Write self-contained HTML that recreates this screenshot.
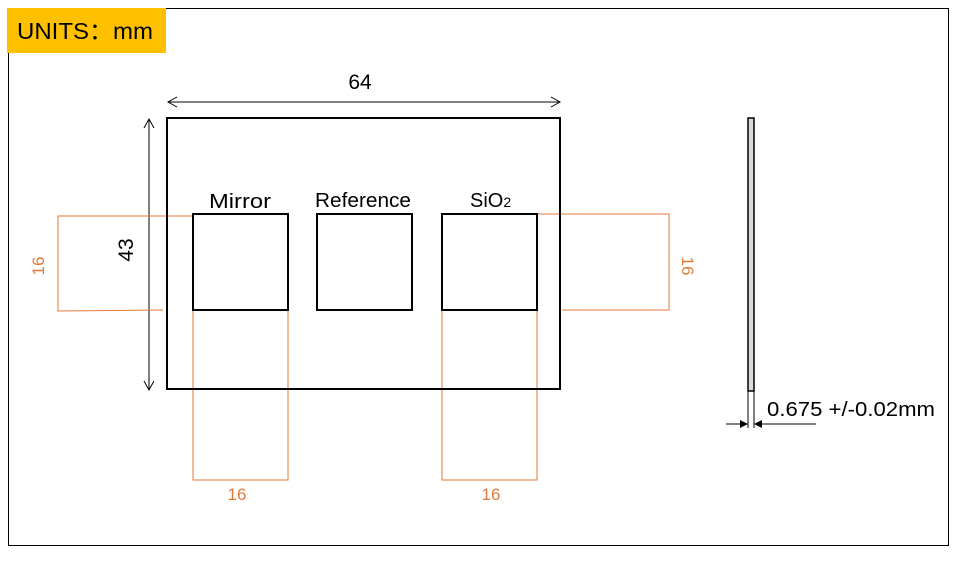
<!DOCTYPE html>
<html><head><style>body{margin:0;background:#fff}svg{display:block}text{font-family:"Liberation Sans",sans-serif}</style></head><body>
<svg width="967" height="561" viewBox="0 0 967 561">
<rect x="8.5" y="8.5" width="940" height="537" fill="#fff" stroke="#000" stroke-width="1"/>
<rect x="7" y="8" width="159" height="45" fill="#FFC000"/>
<text x="17" y="39" font-size="23" fill="#000" textLength="136" lengthAdjust="spacingAndGlyphs">UNITS：mm</text>
<g stroke="#000" stroke-width="1" fill="none">
<line x1="168" y1="102" x2="560" y2="102"/>
<polyline points="177,97 168,102 177,107"/><polyline points="551,97 560,102 551,107"/>
<line x1="149" y1="119" x2="149" y2="390"/>
<polyline points="144,128 149,119 154,128"/><polyline points="144,381 149,390 154,381"/>
</g>
<text x="360" y="89" font-size="21" text-anchor="middle">64</text>
<text transform="translate(133,250) rotate(-90)" font-size="21" text-anchor="middle">43</text>
<g stroke="#E07A3A" stroke-width="1" fill="none">
<polyline points="193,216 58,216 58,311 163,310"/>
<polyline points="537,214 669,214 669,310 562,310"/>
<polyline points="193,310 193,480 288,480 288,310"/>
<polyline points="442,310 442,480 537,480 537,310"/>
</g>
<g fill="#E07A3A" font-size="17">
<text transform="translate(44,266) rotate(-90)" text-anchor="middle">16</text>
<text transform="translate(682,266) rotate(90)" text-anchor="middle">16</text>
<text x="237" y="500" text-anchor="middle">16</text>
<text x="491" y="500" text-anchor="middle">16</text>
</g>
<rect x="167" y="118" width="393" height="271" fill="none" stroke="#000" stroke-width="2"/>
<rect x="193" y="214" width="95" height="96" fill="none" stroke="#000" stroke-width="2"/>
<rect x="317" y="214" width="95" height="96" fill="none" stroke="#000" stroke-width="2"/>
<rect x="442" y="214" width="95" height="96" fill="none" stroke="#000" stroke-width="2"/>
<text x="209" y="208" font-size="20" textLength="62" lengthAdjust="spacingAndGlyphs">Mirror</text>
<text x="315" y="207" font-size="20" textLength="96" lengthAdjust="spacingAndGlyphs">Reference</text>
<text x="470" y="207" font-size="20">SiO<tspan font-size="14">2</tspan></text>
<rect x="748" y="118" width="6" height="273" fill="#d9d9d9" stroke="#000" stroke-width="1.5"/>
<g stroke="#000" stroke-width="1"><line x1="748" y1="391" x2="748" y2="428"/><line x1="754" y1="391" x2="754" y2="428"/>
<line x1="726" y1="424" x2="742" y2="424"/><line x1="760" y1="424" x2="816" y2="424"/></g>
<polygon points="748,424 740,420 740,428" fill="#000"/><polygon points="754,424 762,420 762,428" fill="#000"/>
<text x="767" y="416" font-size="20" textLength="168" lengthAdjust="spacingAndGlyphs">0.675 +/-0.02mm</text>
</svg>
</body></html>
